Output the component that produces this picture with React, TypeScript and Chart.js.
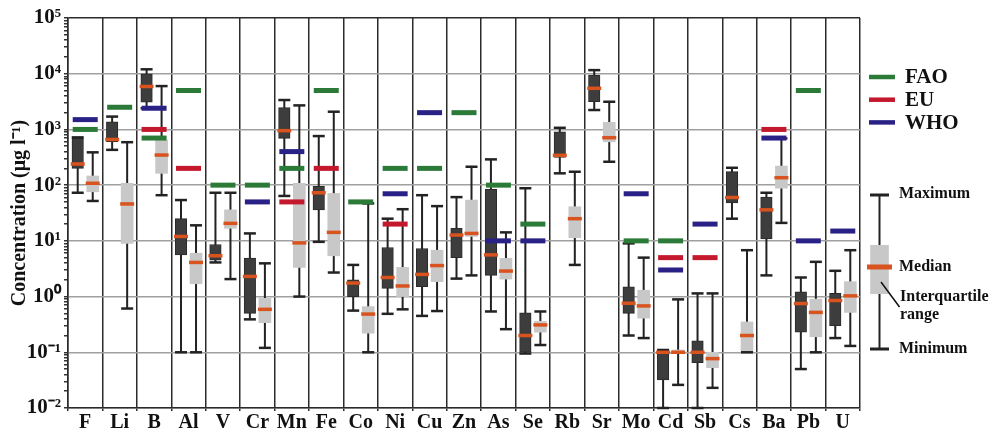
import React, { useEffect, useRef } from 'react';
import { Chart, registerables } from 'chart.js';

Chart.register(...registerables);

const FONT = "'Liberation Serif', 'Times New Roman', Times, serif";

const categories = ['F', 'Li', 'B', 'Al', 'V', 'Cr', 'Mn', 'Fe', 'Co', 'Ni', 'Cu', 'Zn', 'As', 'Se', 'Rb', 'Sr', 'Mo', 'Cd', 'Sb', 'Cs', 'Ba', 'Pb', 'U'];

// dark (left) box plots
const darkMin = [73, 430, 2400, 0.1, 4.1, 0.39, 64, 9.6, 0.56, 0.49, 0.45, 2.1, 0.54, 0.095, 163, 2230, 0.2, 0.01, 0.01, 25, 2.4, 0.05, 0.18];
const darkQ1 = [200, 600, 3100, 5.6, 4.5, 0.5, 690, 36, 1.0, 1.4, 1.5, 5.0, 2.4, 0.1, 315, 3140, 0.5, 0.032, 0.065, 48, 10.8, 0.23, 0.3];
const darkMed = [240, 660, 5900, 12, 5.4, 2.3, 950, 73, 1.75, 2.2, 2.5, 12.7, 5.6, 0.2, 343, 5470, 0.76, 0.1, 0.1, 60, 36, 0.75, 0.85];
const darkQ3 = [700, 1370, 10000, 25, 8.6, 4.9, 2470, 95, 2.0, 7.6, 7.3, 16.8, 84, 0.51, 910, 9500, 1.5, 0.105, 0.16, 175, 61, 1.22, 1.14];
const darkMax = [720, 1700, 12000, 54, 73, 13.6, 3370, 760, 3.7, 25, 66, 61, 290, 88, 1070, 11600, 9, 0.11, 1.14, 205, 73, 2.2, 2.9];

// light (right) box plots
const lightMin = [52, 0.61, 66, 0.1, 2.06, 0.12, 1.0, 2.7, 0.1, 0.59, 0.55, 2.4, 0.26, 0.135, 3.7, 263, 0.18, 0.026, 0.023, 0.1, 21, 0.1, 0.13];
const lightQ1 = [76, 9, 163, 1.7, 16.8, 0.34, 3.34, 5.4, 0.22, 1.0, 1.85, 12, 2.06, 0.23, 11.4, 600, 0.41, 0.1, 0.053, 0.1, 88, 0.19, 0.52];
const lightMed = [108, 46, 347, 4.1, 20.6, 0.59, 9.2, 14.2, 0.485, 1.55, 3.6, 13.6, 2.87, 0.31, 25, 710, 0.68, 0.1, 0.077, 0.2, 136, 0.52, 1.03];
const lightQ3 = [146, 108, 645, 6, 36, 0.93, 108, 71, 0.66, 3.34, 6.8, 54, 4.85, 0.36, 41, 1340, 1.3, 0.11, 0.1, 0.35, 220, 0.9, 1.85];
const lightMax = [388, 590, 6000, 19, 73, 3.95, 2700, 2080, 47, 37, 42, 214, 14.2, 0.54, 174, 3140, 5.0, 0.89, 1.14, 6.8, 690, 4.2, 6.8];

// guideline values
const fao = [1000, 2500, 700, 5000, 100, 100, 200, 5000, 50, 200, 200, 2000, 100, 20, null, null, 10, 10, null, null, null, 5000, null];
const eu = [null, null, 1000, 200, null, null, 50, 200, null, 20, null, null, null, null, null, null, null, 5, 5, null, 1000, null, null];
const who = [1500, null, 2400, null, null, 50, 400, null, null, 70, 2000, null, 10, 10, null, null, 70, 3, 20, null, 700, 10, 15];

const guideNames = ['FAO', 'EU', 'WHO'];
const guideColors = ['#2b7a38', '#c4182c', '#2a2186'];

const decadeExponents = [-2, -1, 0, 1, 2, 3, 4, 5];
const minorMultiples = [2, 3, 4, 5, 6, 7, 8, 9];

const SHIFT = 0.218;

const MEDIAN_COLOR = '#d9531f';
const DARK_BOX = '#3d3d3d';
const LIGHT_BOX = '#c8c8c8';
const WHISKER = '#222222';

const SUP: Record<string, string> = { '-': '\u207B', '0': '\u2070', '1': '\u00B9', '2': '\u00B2', '3': '\u00B3', '4': '\u2074', '5': '\u2075' };
const sup = (s: string) => s.split('').map((c) => SUP[c] || c).join('');

const isDecade = (v: number) => Math.abs(Math.log10(v) - Math.round(Math.log10(v))) < 1e-9;

const pts = (vals: (number | null)[], shift: number) =>
  vals.map((v, i) => (v == null ? null : { x: i + shift, y: v })).filter((p) => p !== null);
const ranges = (lo: number[], hi: number[], shift: number) => lo.map((v, i) => ({ x: i + shift, y: [v, hi[i]] }));
// whisker segments: min -> max for each category, separated by gaps
const segs = (lo: number[], hi: number[], shift: number) => {
  const out: { x: number; y: number | null }[] = [];
  lo.forEach((v, i) => {
    out.push({ x: i + shift, y: v }, { x: i + shift, y: hi[i] }, { x: i + shift, y: null });
  });
  return out;
};

const sidePlugin = {
  id: 'sideLegend',
  afterDraw(chart: any) {
    const { ctx, chartArea: a } = chart;
    ctx.save();
    const lx = a.right + 9;
    guideNames.forEach((name, k) => {
      const y = a.top + 59 + k * 22.7;
      ctx.strokeStyle = guideColors[k];
      ctx.lineWidth = 4.5;
      ctx.beginPath();
      ctx.moveTo(lx, y);
      ctx.lineTo(lx + 26, y);
      ctx.stroke();
      ctx.fillStyle = '#111';
      ctx.font = `bold 21px ${FONT}`;
      ctx.textBaseline = 'middle';
      ctx.textAlign = 'left';
      ctx.fillText(name, lx + 36, y + 1);
    });

    // box-plot key
    const cx = a.right + 19.5;
    const yMax = 195, yQ3 = 245, yMed = 267, yQ1 = 294, yMin = 349;
    ctx.strokeStyle = WHISKER;
    ctx.lineWidth = 2;
    ctx.beginPath();
    ctx.moveTo(cx, yMax);
    ctx.lineTo(cx, yMin);
    ctx.stroke();
    ctx.lineWidth = 3;
    ctx.beginPath();
    ctx.moveTo(cx - 9.5, yMax);
    ctx.lineTo(cx + 9.5, yMax);
    ctx.moveTo(cx - 9.5, yMin);
    ctx.lineTo(cx + 9.5, yMin);
    ctx.stroke();
    ctx.fillStyle = LIGHT_BOX;
    ctx.fillRect(cx - 9.3, yQ3, 18.6, yQ1 - yQ3);
    ctx.strokeStyle = MEDIAN_COLOR;
    ctx.lineWidth = 5;
    ctx.beginPath();
    ctx.moveTo(cx - 12.5, yMed);
    ctx.lineTo(cx + 12.5, yMed);
    ctx.stroke();
    ctx.strokeStyle = '#111';
    ctx.lineWidth = 1.5;
    ctx.beginPath();
    ctx.moveTo(cx + 1.5, 282);
    ctx.lineTo(cx + 20, 307);
    ctx.stroke();

    ctx.fillStyle = '#111';
    ctx.font = `bold 16px ${FONT}`;
    ctx.textAlign = 'left';
    ctx.textBaseline = 'middle';
    const tx = a.right + 39;
    ctx.fillText('Maximum', tx, yMax - 1);
    ctx.fillText('Median', tx, yMed);
    ctx.fillText('Interquartile', tx + 1, 297);
    ctx.fillText('range', tx + 1, 315);
    ctx.fillText('Minimum', tx, yMin);
    ctx.restore();
  },
};

export default function App() {
  const ref = useRef<HTMLCanvasElement | null>(null);

  useEffect(() => {
    if (!ref.current) return;
    const font = (size: number) => ({ family: FONT, size, weight: 'bold' as const });

    const guideSets = [fao, eu, who].map((vals, k) => ({
      type: 'scatter' as const,
      label: guideNames[k],
      xAxisID: 'x2',
      yAxisID: 'y',
      data: pts(vals, 0),
      pointStyle: 'line',
      pointRadius: 12.5,
      pointHoverRadius: 12.5,
      pointBorderWidth: 5,
      pointBorderColor: guideColors[k],
      pointBackgroundColor: guideColors[k],
      showLine: false,
      clip: false as const,
      order: 0,
    }));

    const medianSet = (vals: number[], shift: number) => ({
      type: 'scatter' as const,
      xAxisID: 'x2',
      yAxisID: 'y',
      data: pts(vals, shift),
      pointStyle: 'line',
      pointRadius: 7,
      pointHoverRadius: 7,
      pointBorderWidth: 3.5,
      pointBorderColor: MEDIAN_COLOR,
      showLine: false,
      clip: false as const,
      order: 1,
    });

    const capSet = (lo: number[], hi: number[], shift: number) => ({
      type: 'scatter' as const,
      xAxisID: 'x2',
      yAxisID: 'y',
      data: [...pts(lo, shift), ...pts(hi, shift)],
      pointStyle: 'line',
      pointRadius: 6,
      pointHoverRadius: 6,
      pointBorderWidth: 2.5,
      pointBorderColor: WHISKER,
      showLine: false,
      clip: false as const,
      order: 2,
    });

    const boxSet = (lo: number[], hi: number[], shift: number, color: string, border: string, bw: number, thick: number) => ({
      type: 'bar' as const,
      xAxisID: 'x2',
      yAxisID: 'y',
      grouped: false,
      data: ranges(lo, hi, shift),
      backgroundColor: color,
      borderColor: border,
      borderWidth: bw,
      borderSkipped: false,
      barPercentage: 1,
      categoryPercentage: 1,
      maxBarThickness: thick,
      order: 3,
    });

    const whiskerSet = (lo: number[], hi: number[], shift: number) => ({
      type: 'line' as const,
      xAxisID: 'x2',
      yAxisID: 'y',
      data: segs(lo, hi, shift),
      borderColor: WHISKER,
      borderWidth: 2,
      pointRadius: 0,
      pointHoverRadius: 0,
      spanGaps: false,
      fill: false,
      tension: 0,
      clip: false as const,
      order: 4,
    });

    const tickValues: number[] = [];
    decadeExponents.forEach((e) => {
      tickValues.push(Math.pow(10, e));
      if (e < 5) minorMultiples.forEach((m) => tickValues.push(m * Math.pow(10, e)));
    });

    const chart = new Chart(ref.current, {
      type: 'bar',
      data: {
        labels: categories,
        datasets: [
          boxSet(darkQ1, darkQ3, -SHIFT, DARK_BOX, '#2a2a2a', 1, 11.5),
          boxSet(lightQ1, lightQ3, SHIFT, LIGHT_BOX, LIGHT_BOX, 0, 12),
          whiskerSet(darkMin, darkMax, -SHIFT),
          whiskerSet(lightMin, lightMax, SHIFT),
          capSet(darkMin, darkMax, -SHIFT),
          capSet(lightMin, lightMax, SHIFT),
          medianSet(darkMed, -SHIFT),
          medianSet(lightMed, SHIFT),
          ...guideSets,
        ] as any,
      },
      options: {
        animation: false,
        responsive: true,
        maintainAspectRatio: false,
        events: [],
        layout: { padding: { top: 18, right: 131, left: 0, bottom: 0 } },
        plugins: { legend: { display: false }, tooltip: { enabled: false } },
        scales: {
          x: {
            type: 'category',
            labels: categories,
            offset: true,
            grid: { offset: true, color: '#2b2b2b', lineWidth: 1.5, drawTicks: true, tickLength: 3 },
            border: { color: '#2b2b2b', width: 1.5 },
            ticks: { font: font(20), color: '#111', padding: 0, autoSkip: false, maxRotation: 0 },
            afterFit: (s: any) => {
              s.height = 27;
            },
          },
          x2: {
            type: 'linear',
            min: -0.5,
            max: categories.length - 0.5,
            offset: false,
            grace: 0,
            display: false,
            ticks: { stepSize: 1 },
            grid: { offset: false },
          },
          y: {
            type: 'logarithmic',
            position: 'left',
            min: 0.01,
            max: 1e5,
            stacked: false,
            afterBuildTicks: (s: any) => {
              s.ticks = tickValues.map((v) => ({ value: v }));
            },
            ticks: {
              autoSkip: false,
              font: font(21),
              color: '#111',
              padding: 3,
              callback: (v: any) => (isDecade(Number(v)) ? '10' + sup(String(Math.round(Math.log10(Number(v))))) : ''),
            },
            grid: {
              color: (c: any) => {
                const v = c.tick && c.tick.value;
                if (!v || !isDecade(v)) return 'rgba(0,0,0,0)';
                return v >= 1e5 ? '#2b2b2b' : '#a0a0a0';
              },
              lineWidth: 1.5,
              tickColor: '#333',
              tickLength: 4,
              drawTicks: true,
            },
            border: { color: '#2b2b2b', width: 1.5 },
            title: {
              display: true,
              text: 'Concentration (\u03BCg l\u207B\u00B9)',
              font: font(20),
              color: '#111',
              padding: { top: 8, bottom: 0 },
            },
            afterFit: (s: any) => {
              s.width = 68;
            },
          },
        },
      } as any,
      plugins: [sidePlugin],
    });

    return () => chart.destroy();
  }, []);

  return (
    <div style={{ position: 'absolute', left: 0, top: 0, width: 991, height: 435, background: '#fff' }}>
      <canvas ref={ref} />
    </div>
  );
}
